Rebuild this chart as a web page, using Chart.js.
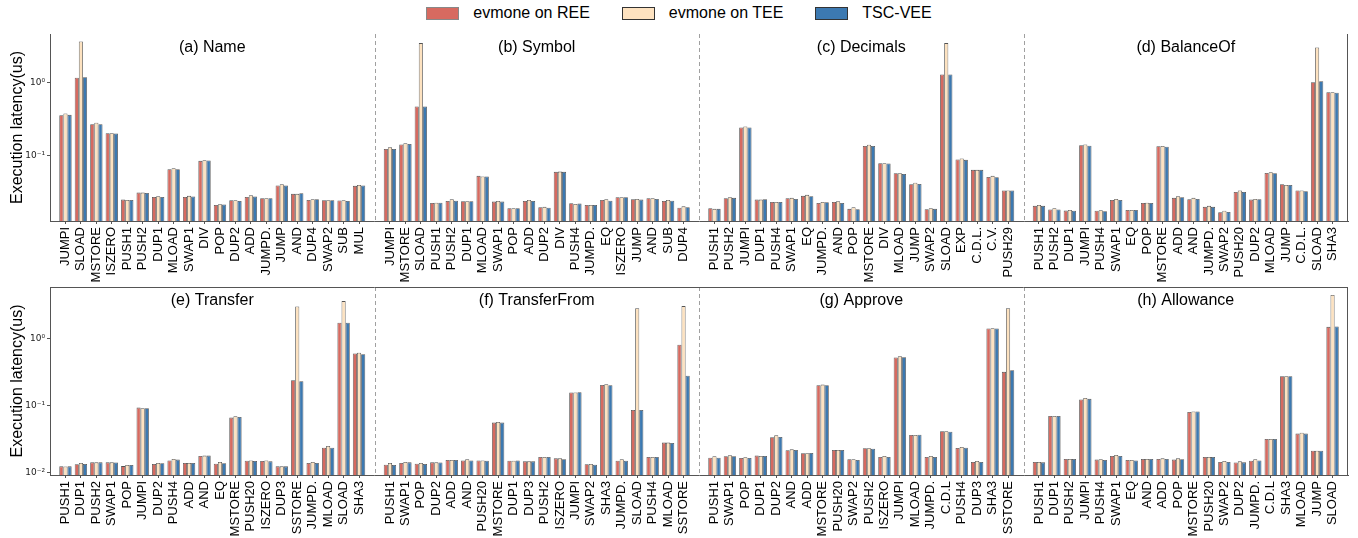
<!DOCTYPE html>
<html>
<head>
<meta charset="utf-8">
<script src="https://cdn.jsdelivr.net/npm/chart.js@4.4.1/dist/chart.umd.min.js"></script>
<style>
  body { margin: 0; width: 1358px; height: 538px; position: relative; overflow: hidden; background: #fff; font-family: "Liberation Sans", Arial, sans-serif; }
  #legend { position: absolute; left: 0; top: 0; width: 1358px; height: 26px; display: flex; justify-content: center; align-items: center; font-size: 16px; color: #000; }
  .item { display: flex; align-items: center; margin: 0 16px; }
  .box { width: 31px; height: 11px; border: 1px solid #333; margin-right: 14px; }
  .row { position: absolute; left: 0; width: 1358px; }
</style>
</head>
<body>
<div id="legend"></div>
<div class="row" style="top:0;height:290px"><canvas id="row1"></canvas></div>
<div class="row" style="top:275px;height:263px"><canvas id="row2"></canvas></div>
<script>
// Series names and colours
const seriesNames = ['evmone on REE', 'evmone on TEE', 'TSC-VEE'];
const seriesColors = ['#d76a60', '#fde2c0', '#3c79b1'];

// (a) Name
const nameOps = ['JUMPI', 'SLOAD', 'MSTORE', 'ISZERO', 'PUSH1', 'PUSH2', 'DUP1', 'MLOAD', 'SWAP1', 'DIV', 'POP', 'DUP2', 'ADD', 'JUMPD.', 'JUMP', 'AND', 'DUP4', 'SWAP2', 'SUB', 'MUL'];
const nameREE = [0.355, 1.16, 0.267, 0.201, 0.0245, 0.0306, 0.0267, 0.0642, 0.0267, 0.0836, 0.0207, 0.024, 0.0267, 0.0256, 0.0383, 0.0294, 0.0243, 0.024, 0.0238, 0.0379];
const nameTEE = [0.374, 3.66, 0.279, 0.201, 0.0243, 0.0306, 0.0273, 0.0662, 0.0276, 0.0853, 0.0212, 0.024, 0.0282, 0.0256, 0.0399, 0.0294, 0.0248, 0.024, 0.024, 0.039];
const nameVEE = [0.359, 1.18, 0.267, 0.199, 0.0243, 0.0303, 0.0267, 0.0642, 0.027, 0.0845, 0.021, 0.0235, 0.027, 0.0256, 0.0383, 0.030, 0.0248, 0.024, 0.0235, 0.0383];

// (b) Symbol
const symbolOps = ['JUMPI', 'MSTORE', 'SLOAD', 'PUSH1', 'PUSH2', 'DUP1', 'MLOAD', 'SWAP1', 'POP', 'ADD', 'DUP2', 'DIV', 'PUSH4', 'JUMPD.', 'EQ', 'ISZERO', 'JUMP', 'AND', 'SUB', 'DUP4'];
const symbolREE = [0.122, 0.140, 0.468, 0.0221, 0.0235, 0.0233, 0.052, 0.023, 0.0187, 0.0235, 0.0192, 0.059, 0.0218, 0.0207, 0.0243, 0.0264, 0.0248, 0.0256, 0.0235, 0.019];
const symbolTEE = [0.129, 0.146, 3.48, 0.0222, 0.0248, 0.0233, 0.051, 0.0235, 0.0187, 0.0243, 0.0195, 0.0595, 0.0214, 0.0207, 0.0248, 0.0264, 0.025, 0.0256, 0.0243, 0.0198];
const symbolVEE = [0.122, 0.143, 0.468, 0.0222, 0.0237, 0.0233, 0.051, 0.023, 0.0187, 0.0235, 0.0189, 0.059, 0.0216, 0.0207, 0.0237, 0.0264, 0.0245, 0.025, 0.0237, 0.0192];

// (c) Decimals
const decimalsOps = ['PUSH1', 'PUSH2', 'JUMPI', 'DUP1', 'PUSH4', 'SWAP1', 'EQ', 'JUMPD.', 'AND', 'POP', 'MSTORE', 'DIV', 'MLOAD', 'JUMP', 'SWAP2', 'SLOAD', 'EXP', 'C.D.L.', 'C.V.', 'PUSH29'];
const decimalsREE = [0.0187, 0.0256, 0.240, 0.0245, 0.0228, 0.0256, 0.0276, 0.0221, 0.0228, 0.0183, 0.134, 0.0776, 0.0565, 0.0399, 0.0181, 1.29, 0.0872, 0.0629, 0.0503, 0.0327];
const decimalsTEE = [0.0183, 0.0264, 0.248, 0.0245, 0.0228, 0.0259, 0.0285, 0.0228, 0.0233, 0.0192, 0.139, 0.0776, 0.0565, 0.0417, 0.0187, 3.48, 0.090, 0.0629, 0.052, 0.0327];
const decimalsVEE = [0.0183, 0.0259, 0.240, 0.0248, 0.0228, 0.025, 0.0273, 0.0226, 0.0221, 0.0181, 0.134, 0.0768, 0.0553, 0.0403, 0.0183, 1.29, 0.0863, 0.0629, 0.0498, 0.0327];

// (d) BalanceOf
const balanceOps = ['PUSH1', 'PUSH2', 'DUP1', 'JUMPI', 'PUSH4', 'SWAP1', 'EQ', 'POP', 'MSTORE', 'ADD', 'AND', 'JUMPD.', 'SWAP2', 'PUSH20', 'DUP2', 'MLOAD', 'JUMP', 'C.D.L.', 'SLOAD', 'SHA3'];
const balanceREE = [0.0201, 0.0179, 0.0173, 0.137, 0.0172, 0.0243, 0.0177, 0.0221, 0.133, 0.0259, 0.0248, 0.0195, 0.0164, 0.0313, 0.0245, 0.0571, 0.0399, 0.0327, 1.01, 0.736];
const balanceTEE = [0.0207, 0.0187, 0.0177, 0.140, 0.0175, 0.025, 0.0177, 0.0222, 0.134, 0.0273, 0.0259, 0.0201, 0.0172, 0.0327, 0.025, 0.0583, 0.039, 0.0327, 3.03, 0.736];
const balanceVEE = [0.0201, 0.0179, 0.0172, 0.135, 0.0170, 0.0243, 0.0177, 0.0221, 0.131, 0.0264, 0.025, 0.0195, 0.0166, 0.0313, 0.0248, 0.0565, 0.039, 0.032, 1.04, 0.721];

// (e) Transfer
const transferOps = ['PUSH1', 'DUP1', 'PUSH2', 'SWAP1', 'POP', 'JUMPI', 'DUP2', 'PUSH4', 'ADD', 'AND', 'EQ', 'MSTORE', 'PUSH20', 'ISZERO', 'DUP3', 'SSTORE', 'JUMPD.', 'MLOAD', 'SLOAD', 'SHA3'];
const transferREE = [0.0123, 0.0132, 0.0141, 0.0141, 0.0124, 0.0933, 0.0133, 0.0151, 0.0138, 0.0176, 0.0135, 0.066, 0.0149, 0.0148, 0.0123, 0.240, 0.0138, 0.0234, 1.74, 0.603];
const transferTEE = [0.0122, 0.0138, 0.0141, 0.0141, 0.0129, 0.0912, 0.0138, 0.0158, 0.0138, 0.0178, 0.0143, 0.0692, 0.0151, 0.0151, 0.0123, 3.05, 0.0143, 0.0248, 3.67, 0.62];
const transferVEE = [0.0123, 0.0133, 0.0141, 0.014, 0.0129, 0.0912, 0.0137, 0.0155, 0.0138, 0.0178, 0.0137, 0.0676, 0.0148, 0.0146, 0.0123, 0.232, 0.0138, 0.0234, 1.74, 0.589];

// (f) TransferFrom
const fromOps = ['PUSH1', 'SWAP1', 'POP', 'DUP2', 'ADD', 'AND', 'PUSH20', 'MSTORE', 'DUP1', 'DUP3', 'PUSH2', 'ISZERO', 'JUMPI', 'SWAP2', 'SHA3', 'JUMPD.', 'SLOAD', 'PUSH4', 'MLOAD', 'SSTORE'];
const fromREE = [0.013, 0.0138, 0.0135, 0.0141, 0.0153, 0.0151, 0.0151, 0.0556, 0.0149, 0.0146, 0.017, 0.0162, 0.157, 0.0132, 0.204, 0.0149, 0.0861, 0.017, 0.0279, 0.813];
const fromTEE = [0.0138, 0.0143, 0.0138, 0.0141, 0.0153, 0.0157, 0.0151, 0.0569, 0.0149, 0.0146, 0.017, 0.0162, 0.157, 0.0133, 0.209, 0.0157, 2.88, 0.017, 0.0279, 3.09];
const fromVEE = [0.0129, 0.0141, 0.0133, 0.014, 0.0153, 0.0151, 0.0149, 0.0556, 0.0151, 0.0146, 0.017, 0.0157, 0.158, 0.013, 0.202, 0.0149, 0.0861, 0.017, 0.0276, 0.279];

// (g) Approve
const approveOps = ['PUSH1', 'SWAP1', 'POP', 'DUP1', 'DUP2', 'AND', 'ADD', 'MSTORE', 'PUSH20', 'SWAP2', 'PUSH2', 'ISZERO', 'JUMPI', 'MLOAD', 'JUMPD.', 'C.D.L', 'PUSH4', 'DUP3', 'SHA3', 'SSTORE'];
const approveREE = [0.0166, 0.0174, 0.0164, 0.0178, 0.0335, 0.0214, 0.0193, 0.202, 0.0216, 0.0157, 0.0229, 0.017, 0.525, 0.0363, 0.017, 0.0412, 0.0232, 0.0143, 1.43, 0.32];
const approveTEE = [0.0174, 0.018, 0.0168, 0.0176, 0.0359, 0.0221, 0.0193, 0.206, 0.0216, 0.0157, 0.0229, 0.0176, 0.55, 0.0363, 0.0176, 0.0412, 0.024, 0.0148, 1.44, 2.88];
const approveVEE = [0.0166, 0.0174, 0.0164, 0.0176, 0.0339, 0.0216, 0.0195, 0.202, 0.0216, 0.0153, 0.0226, 0.017, 0.531, 0.0367, 0.017, 0.0407, 0.0234, 0.0143, 1.43, 0.339];

// (h) Allowance
const allowanceOps = ['PUSH1', 'DUP1', 'PUSH2', 'JUMPI', 'PUSH4', 'SWAP1', 'EQ', 'AND', 'ADD', 'POP', 'MSTORE', 'PUSH20', 'SWAP2', 'DUP2', 'JUMPD.', 'C.D.L', 'SHA3', 'MLOAD', 'JUMP', 'SLOAD'];
const allowanceREE = [0.0143, 0.070, 0.0158, 0.123, 0.0155, 0.0176, 0.0153, 0.0158, 0.0158, 0.0155, 0.0804, 0.017, 0.0143, 0.014, 0.0149, 0.0316, 0.275, 0.038, 0.0211, 1.51];
const allowanceTEE = [0.0143, 0.070, 0.0158, 0.130, 0.0157, 0.0182, 0.0153, 0.0158, 0.0162, 0.0162, 0.0813, 0.017, 0.0148, 0.0146, 0.0157, 0.0316, 0.275, 0.0393, 0.0211, 4.52];
const allowanceVEE = [0.0141, 0.070, 0.0158, 0.126, 0.0153, 0.0176, 0.0151, 0.0158, 0.0158, 0.0157, 0.0813, 0.017, 0.0143, 0.0141, 0.0151, 0.0316, 0.275, 0.038, 0.0211, 1.53];

// Y axis ranges and decade ticks per row
const row1Range = [0.01245, 4.64];
const row2Range = [0.00912, 5.97];
const row1Ticks = [0.1, 1];
const row2Ticks = [0.01, 0.1, 1];
const tickText = { 0.01: '10\u207B\u00B2', 0.1: '10\u207B\u00B9', 1: '10\u2070' };

const FONT = '"Liberation Sans", Arial, sans-serif';
const SLOTS = 21; // 20 opcodes + 1 separator slot per panel

// Legend built from the series names
const legend = document.getElementById('legend');
seriesNames.forEach((name, i) => {
	const item = document.createElement('div');
	item.className = 'item';
	item.innerHTML = '<span class="box" style="background:' + seriesColors[i] + (i === 0 ? ';border-color:#888' : '') + '"></span><span>' + name + '</span>';
	legend.appendChild(item);
});

// Dashed separators, panel titles and missing spines
const panelDecor = {
	id: 'panelDecor',
	afterDraw(chart, args, opts) {
		const { ctx, chartArea: a, scales: { x } } = chart;
		ctx.save();

		ctx.strokeStyle = '#a0a0a0';
		ctx.lineWidth = 1;
		ctx.setLineDash([4, 3]);
		for (let p = 1; p < opts.titles.length; p++) {
			const px = Math.round(x.getPixelForValue(p * SLOTS - 1)) + 0.5;
			ctx.beginPath();
			ctx.moveTo(px, a.top);
			ctx.lineTo(px, a.bottom);
			ctx.stroke();
		}
		ctx.setLineDash([]);

		ctx.strokeStyle = '#555';
		ctx.beginPath();
		ctx.moveTo(a.right - 0.5, a.top);
		ctx.lineTo(a.right - 0.5, a.bottom);
		if (opts.topSpine) {
			ctx.moveTo(a.left, a.top + 0.5);
			ctx.lineTo(a.right, a.top + 0.5);
		}
		ctx.stroke();

		ctx.font = '16px ' + FONT;
		ctx.fillStyle = '#000';
		ctx.textAlign = 'center';
		ctx.textBaseline = 'middle';
		opts.titles.forEach((t, p) => {
			ctx.fillText(t, x.getPixelForValue(p * SLOTS + 9.5), a.top + 13.5);
		});
		ctx.restore();
	}
};

function makeRow(canvasId, panels, titles, range, decades, opts) {
	// opcode name for each x slot
	const labelAt = {};
	const tickPos = [];
	panels.forEach((p, pi) => p.ops.forEach((op, i) => {
		labelAt[pi * SLOTS + i] = op;
		tickPos.push(pi * SLOTS + i);
	}));

	const datasets = seriesNames.map((name, s) => ({
		label: name,
		data: panels.flatMap((p, pi) => p.values[s].map((v, i) => ({ x: pi * SLOTS + i, y: v }))),
		backgroundColor: seriesColors[s],
		borderColor: 'rgba(40,40,40,0.8)',
		borderWidth: 0.8,
		categoryPercentage: 0.8,
		barPercentage: 1.0
	}));

	return new Chart(document.getElementById(canvasId), {
		type: 'bar',
		data: { datasets },
		plugins: [panelDecor],
		options: {
			responsive: true,
			maintainAspectRatio: false,
			animation: false,
			layout: { padding: { top: opts.padTop, right: 10, left: 0, bottom: 0 } },
			plugins: {
				legend: { display: false },
				tooltip: { enabled: false },
				panelDecor: { titles, topSpine: opts.topSpine }
			},
			scales: {
				x: {
					type: 'linear',
					offset: false,
					min: -1,
					max: panels.length * SLOTS - 1,
					grid: { drawOnChartArea: false, drawTicks: true, tickLength: 3, color: '#555', offset: false },
					border: { display: true, color: '#555', width: 1 },
					afterBuildTicks: (axis) => { axis.ticks = tickPos.map(v => ({ value: v })); },
					afterFit: (axis) => { axis.height = opts.xHeight; },
					ticks: {
						autoSkip: false,
						minRotation: 90,
						maxRotation: 90,
						padding: 3,
						color: '#000',
						font: { family: FONT, size: 13 },
						callback: (v) => labelAt[v] || ''
					}
				},
				y: {
					type: 'logarithmic',
					min: range[0],
					max: range[1],
					grid: { drawOnChartArea: false, drawTicks: true, tickLength: 3, color: '#555' },
					border: { display: true, color: '#555', width: 1 },
					afterBuildTicks: (axis) => { axis.ticks = decades.map(v => ({ value: v, major: true })); },
					afterFit: (axis) => { axis.width = 50; },
					ticks: {
						padding: 2,
						color: '#222',
						font: { family: '"DejaVu Sans", sans-serif', size: 9 },
						callback: (v) => tickText[v] || ''
					},
					title: {
						display: true,
						text: 'Execution latency(us)',
						color: '#000',
						font: { family: FONT, size: 16 },
						padding: { top: 8, bottom: 0 }
					}
				}
			}
		}
	});
}

makeRow('row1', [
	{ ops: nameOps, values: [nameREE, nameTEE, nameVEE] },
	{ ops: symbolOps, values: [symbolREE, symbolTEE, symbolVEE] },
	{ ops: decimalsOps, values: [decimalsREE, decimalsTEE, decimalsVEE] },
	{ ops: balanceOps, values: [balanceREE, balanceTEE, balanceVEE] }
], ['(a) Name', '(b) Symbol', '(c) Decimals', '(d) BalanceOf'], row1Range, row1Ticks,
	{ padTop: 34, xHeight: 69, topSpine: false });

makeRow('row2', [
	{ ops: transferOps, values: [transferREE, transferTEE, transferVEE] },
	{ ops: fromOps, values: [fromREE, fromTEE, fromVEE] },
	{ ops: approveOps, values: [approveREE, approveTEE, approveVEE] },
	{ ops: allowanceOps, values: [allowanceREE, allowanceTEE, allowanceVEE] }
], ['(e) Transfer', '(f) TransferFrom', '(g) Approve', '(h) Allowance'], row2Range, row2Ticks,
	{ padTop: 12, xHeight: 63, topSpine: true });
</script>
</body>
</html>
